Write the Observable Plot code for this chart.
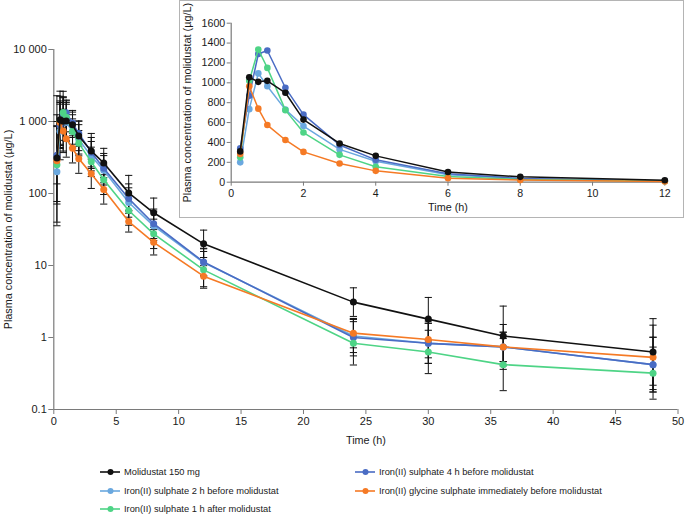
<!DOCTYPE html>
<html>
<head>
<meta charset="utf-8">
<script src="https://cdn.jsdelivr.net/npm/d3@7"></script>
<script src="https://cdn.jsdelivr.net/npm/@observablehq/plot@0.6"></script>
<style>
  html, body { margin: 0; padding: 0; background: #fff; }
  body { font-family: "Liberation Sans", Arial, sans-serif; }
  #wrap { position: relative; width: 685px; height: 515px; overflow: hidden; }
  #main { position: absolute; left: 0; top: 0; }
  #insetBox { position: absolute; left: 179px; top: 0; width: 505px; height: 218px; box-sizing: border-box; border: 1px solid #b4b4b4; background: #fff; }
  #inset { position: absolute; left: 179px; top: 0; }
  .leg { position: absolute; font-size: 9.3px; color: #1a1a1a; white-space: nowrap; display: flex; align-items: center; height: 12px; }
  .leg svg { margin-right: 3px; }
  svg [aria-label="x-axis"] line, svg [aria-label="y-axis"] line,
  svg [aria-label="x-axis tick"] path, svg [aria-label="y-axis tick"] path { stroke: #7a7a7a; }
</style>
</head>
<body>
<div id="wrap">
  <div id="main"></div>
  <div id="insetBox"></div>
  <div id="inset"></div>
  <div id="legend"></div>
</div>
<script>
// ---- Data ----
const times = [0.25, 0.5, 0.75, 1, 1.5, 2, 3, 4, 6, 8, 12, 24, 30, 36, 48];

const seriesNames = [
  "Molidustat 150 mg",
  "Iron(II) sulphate 4 h before molidustat",
  "Iron(II) sulphate 2 h before molidustat",
  "Iron(II) glycine sulphate immediately before molidustat",
  "Iron(II) sulphate 1 h after molidustat"
];
const seriesColors = ["#111111", "#4a6cc4", "#6aa8df", "#f57a25", "#4ed486"];

// geometric mean concentrations (µg/L)
const molidustat150   = [310, 1055, 1010, 1020, 900, 630, 390, 265, 102, 54, 20, 3.1, 1.8, 1.05, 0.63];
const iron4hBefore    = [340, 870, 1290, 1325, 950, 680, 375, 225, 85, 38, 11.2, 1.0, 0.83, 0.74, 0.42];
const iron2hBefore    = [200, 735, 1095, 965, 730, 565, 330, 210, 75, 35.5, 11, 1.05, 0.83, 0.74, 0.42];
const glycineImmed    = [285, 965, 740, 575, 425, 305, 188, 114, 40.8, 21, 7.1, 1.15, 0.94, 0.74, 0.53];
const iron1hAfter     = [250, 1020, 1335, 1150, 725, 500, 275, 155, 58, 27.5, 8.7, 0.83, 0.63, 0.42, 0.32];

// geometric standard deviation factors (error bars: mean / gSD .. mean * gSD)
const gsdMolidustat150 = [4.0, 2.5, 2.6, 1.9, 1.5, 1.6, 1.75, 1.6, 1.75, 1.6, 1.55, 1.58, 2.0, 2.6, 2.9];
const gsdIron4hBefore  = [2.5, 2.0, 1.7, 1.5, 1.5, 1.5, 1.6, 1.6, 1.6, 1.6, 1.55, 1.8, 1.9, 2.05, 2.4];
const gsdIron2hBefore  = [5.0, 2.5, 2.0, 1.8, 1.7, 1.6, 1.6, 1.6, 1.6, 1.6, 1.55, 1.7, 1.9, 1.6, 2.4];
const gsdGlycineImmed  = [8.0, 2.0, 2.0, 1.8, 1.6, 1.6, 1.6, 1.6, 1.4, 1.5, 1.4, 1.6, 1.8, 1.6, 2.8];
const gsdIron1hAfter   = [3.5, 2.2, 1.6, 1.6, 1.5, 1.5, 1.6, 1.6, 1.6, 1.6, 1.8, 2.0, 2.0, 2.3, 2.3];

const mainXTicks = [0, 5, 10, 15, 20, 25, 30, 35, 40, 45, 50];
const mainYTicks = [0.1, 1, 10, 100, 1000, 10000];
const insetXTicks = [0, 2, 4, 6, 8, 10, 12];
const insetYTicks = [0, 200, 400, 600, 800, 1000, 1200, 1400, 1600];

const yLabel = "Plasma concentration of molidustat (µg/L)";
const xLabel = "Time (h)";

// ---- Build table ----
const meanArrays = [molidustat150, iron4hBefore, iron2hBefore, glycineImmed, iron1hAfter];
const gsdArrays = [gsdMolidustat150, gsdIron4hBefore, gsdIron2hBefore, gsdGlycineImmed, gsdIron1hAfter];
// draw order (last on top)
const drawOrder = [2, 1, 4, 3, 0];

const rows = [];
seriesNames.forEach((name, si) => {
  times.forEach((t, i) => {
    const c = meanArrays[si][i];
    const g = gsdArrays[si][i];
    rows.push({series: name, si, t, c, lo: c / g, hi: c * g});
  });
});

const colorScale = {domain: seriesNames, range: seriesColors};
const cap = {
  draw(ctx, size) {
    const r = Math.sqrt(size / Math.PI);
    ctx.moveTo(-r, 0);
    ctx.lineTo(r, 0);
  }
};

const fmtThousands = d => d3.format(",")(d).replace(/,/g, " ");

// ---- Main plot ----
const mainMarks = [
  Plot.ruleX([0], {stroke: "#7a7a7a", strokeWidth: 1.2}),
  Plot.ruleY([0.1], {stroke: "#7a7a7a", strokeWidth: 1.2}),
  Plot.ruleX(rows, {x: "t", y1: "lo", y2: "hi", stroke: "#111", strokeWidth: 1}),
  Plot.dot(rows, {x: "t", y: "hi", symbol: cap, r: 3.6, stroke: "#111", strokeWidth: 1, fill: "none"}),
  Plot.dot(rows, {x: "t", y: "lo", symbol: cap, r: 3.6, stroke: "#111", strokeWidth: 1, fill: "none"})
];
drawOrder.forEach(si => {
  const d = rows.filter(r => r.si === si);
  mainMarks.push(Plot.line(d, {x: "t", y: "c", stroke: "series", strokeWidth: 1.6}));
  mainMarks.push(Plot.dot(d, {x: "t", y: "c", fill: "series", r: 3.5}));
});
mainMarks.push(Plot.text([yLabel], {frameAnchor: "left", textAnchor: "middle", lineAnchor: "middle", dx: -45.5, rotate: -90, fontSize: 10.8, fill: "#1a1a1a"}));
mainMarks.push(Plot.text([xLabel], {frameAnchor: "bottom", textAnchor: "middle", lineAnchor: "middle", dy: 31, fontSize: 10.8, fill: "#1a1a1a"}));

const mainPlot = Plot.plot({
  width: 685,
  height: 450,
  marginLeft: 53.3,
  marginRight: 7.5,
  marginTop: 49,
  marginBottom: 41,
  style: {fontFamily: "'Liberation Sans', Arial, sans-serif", fontSize: "11px", color: "#1a1a1a", background: "transparent", overflow: "visible"},
  x: {domain: [0, 50], ticks: mainXTicks, tickSize: 5, tickPadding: 3, label: null},
  y: {type: "log", domain: [0.1, 10000], ticks: mainYTicks, tickFormat: fmtThousands, tickSize: 5, tickPadding: 2, label: null},
  color: colorScale,
  marks: mainMarks
});
document.getElementById("main").appendChild(mainPlot);

// ---- Inset ----
const insetRows = rows.filter(r => r.t <= 12);
const insetMarks = [
  Plot.ruleX([0], {stroke: "#7a7a7a", strokeWidth: 1.2}),
  Plot.ruleY([0], {stroke: "#7a7a7a", strokeWidth: 1.2})
];
drawOrder.forEach(si => {
  const d = insetRows.filter(r => r.si === si);
  insetMarks.push(Plot.line(d, {x: "t", y: "c", stroke: "series", strokeWidth: 1.5}));
  insetMarks.push(Plot.dot(d, {x: "t", y: "c", fill: "series", r: 3.3}));
});
insetMarks.push(Plot.text([yLabel], {frameAnchor: "left", textAnchor: "middle", lineAnchor: "middle", dx: -43.7, dy: 0, rotate: -90, fontSize: 10.8, fill: "#1a1a1a"}));
insetMarks.push(Plot.text([xLabel], {frameAnchor: "bottom", textAnchor: "middle", lineAnchor: "middle", dy: 25, fontSize: 10.8, fill: "#1a1a1a"}));

const insetPlot = Plot.plot({
  width: 505,
  height: 218,
  marginLeft: 51.7,
  marginRight: 19.7,
  marginTop: 22.7,
  marginBottom: 36.3,
  style: {fontFamily: "'Liberation Sans', Arial, sans-serif", fontSize: "10.6px", color: "#1a1a1a", background: "transparent", overflow: "visible"},
  x: {domain: [0, 12], ticks: insetXTicks, tickSize: 4, tickPadding: 3, label: null, tickFormat: d => String(d)},
  y: {domain: [0, 1600], ticks: insetYTicks, tickSize: 4, tickPadding: 2, label: null, tickFormat: d => String(d)},
  color: colorScale,
  marks: insetMarks
});
document.getElementById("inset").appendChild(insetPlot);

// ---- Legend ----
const legendPos = [
  {si: 0, x: 100, y: 472},
  {si: 1, x: 355, y: 472},
  {si: 2, x: 100, y: 491},
  {si: 3, x: 355, y: 491},
  {si: 4, x: 100, y: 509}
];
const legend = document.getElementById("legend");
legendPos.forEach(p => {
  const item = document.createElement("div");
  item.className = "leg";
  item.style.left = p.x + "px";
  item.style.top = (p.y - 6) + "px";
  const col = seriesColors[p.si];
  item.innerHTML = `<svg width="21" height="12"><line x1="0" y1="6" x2="20" y2="6" stroke="${col}" stroke-width="1.6"/><circle cx="10.5" cy="6" r="3" fill="${col}"/></svg><span>${seriesNames[p.si]}</span>`;
  legend.appendChild(item);
});
</script>
</body>
</html>
